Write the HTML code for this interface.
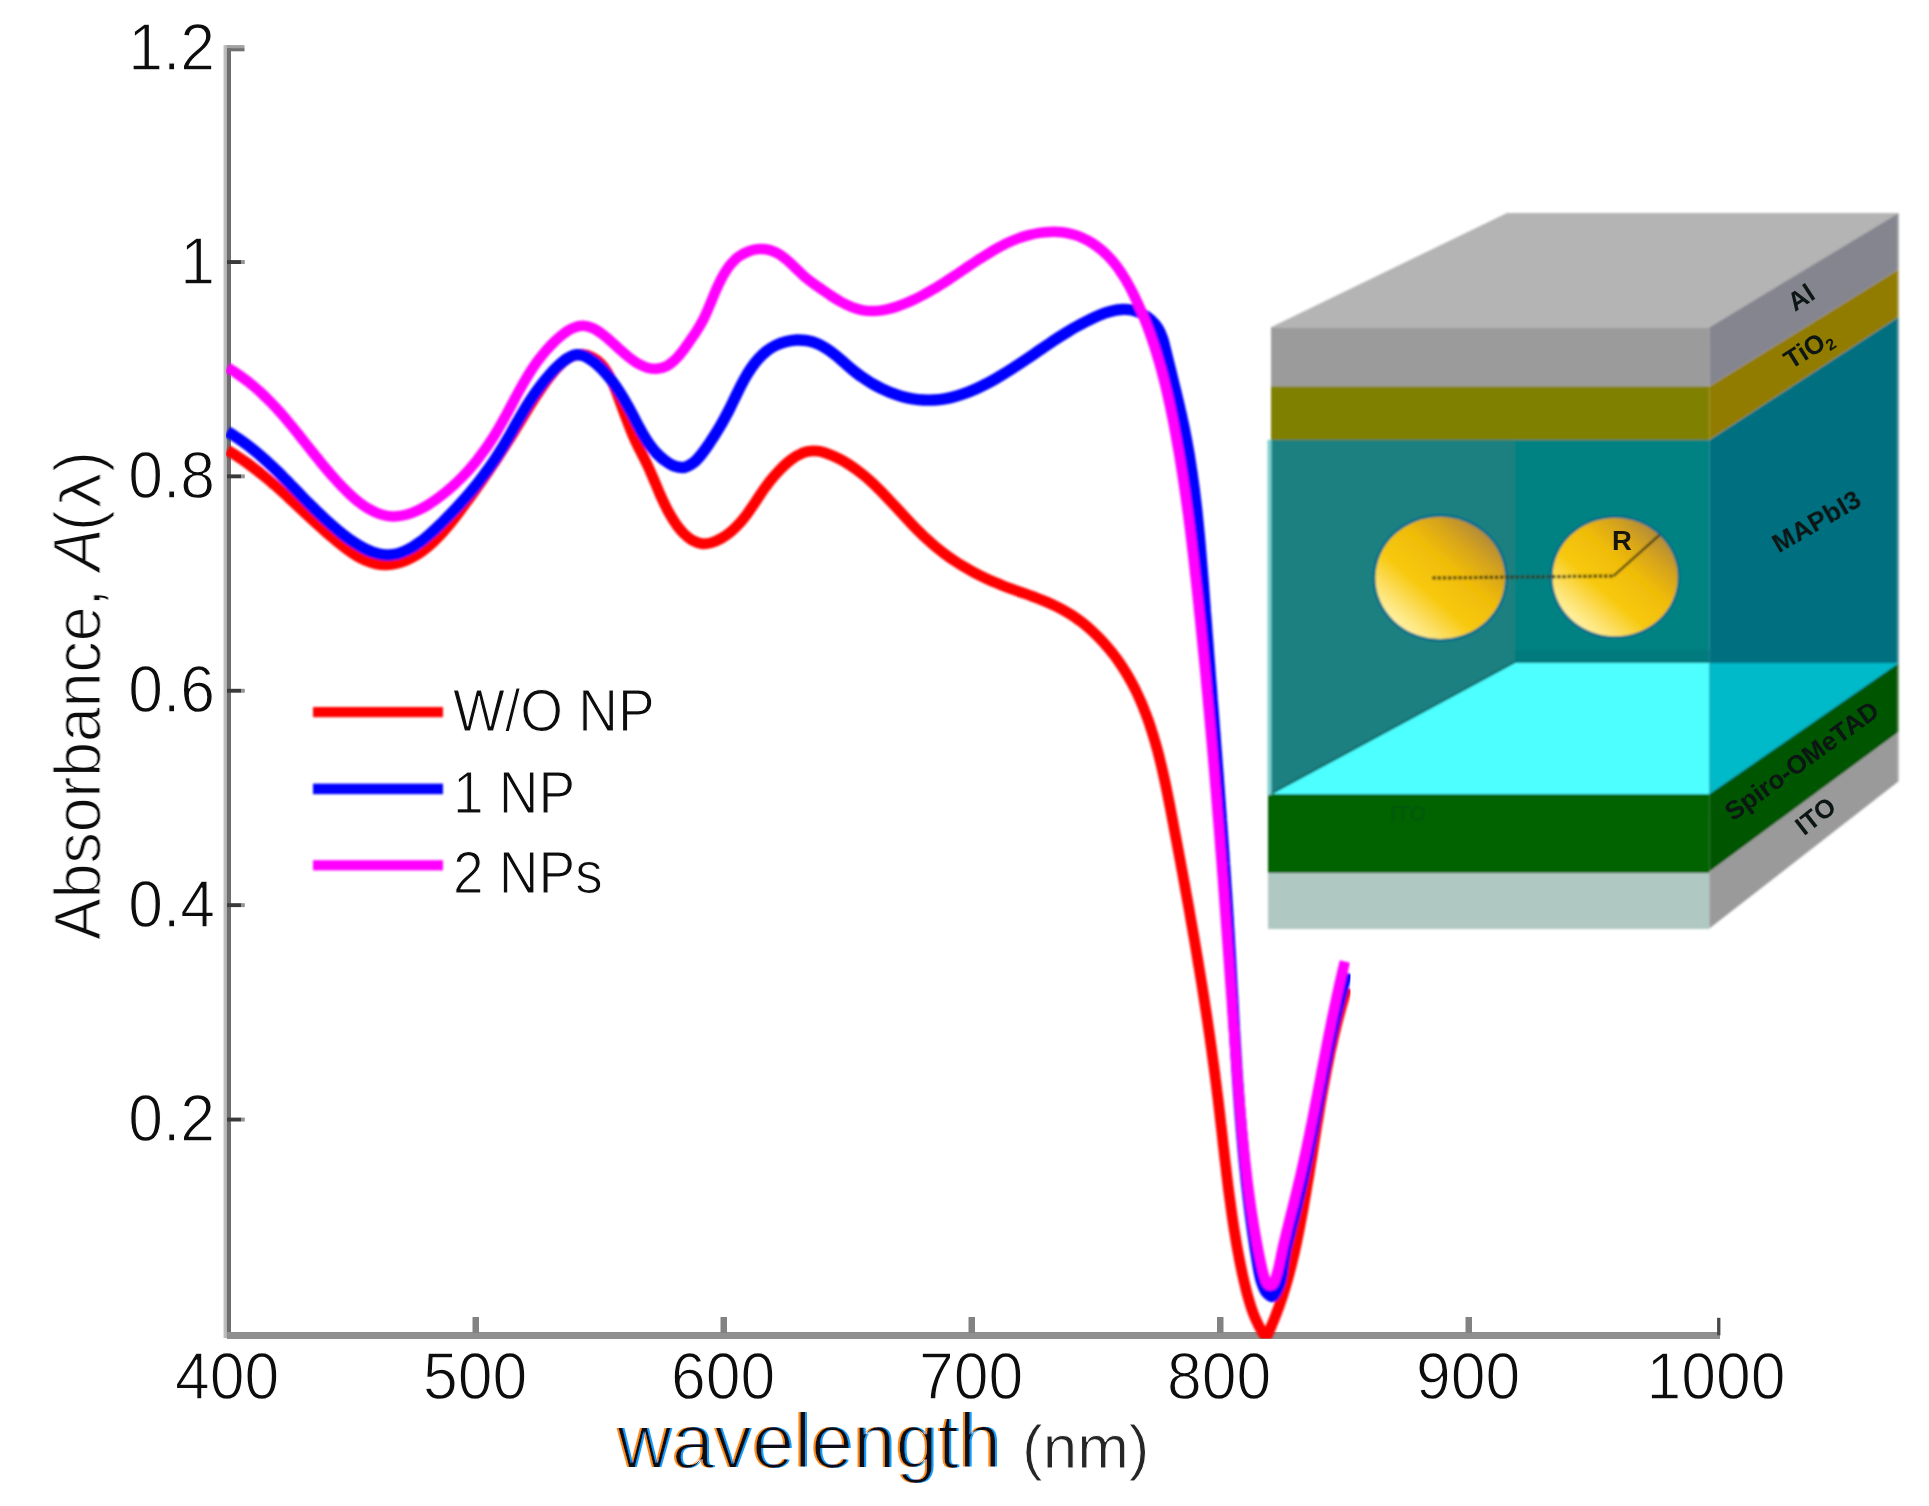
<!DOCTYPE html>
<html lang="en">
<head>
<meta charset="utf-8">
<title>Absorbance vs wavelength</title>
<style>
html,body{margin:0;padding:0;background:#fff;}
body{width:1929px;height:1506px;overflow:hidden;}
svg{display:block;}
text{font-family:"Liberation Sans",Arial,sans-serif;}
.tk{font-size:62.5px;fill:#0e0e0e;stroke:#fff;stroke-width:1.2px;}
.lg{font-size:55px;fill:#0e0e0e;stroke:#fff;stroke-width:1.1px;}
.in{font-size:26px;font-weight:bold;fill:#0c1412;}
</style>
</head>
<body>
<svg width="1929" height="1506" viewBox="0 0 1929 1506">
<defs>
<linearGradient id="yax" x1="0" x2="1" y1="0" y2="0">
<stop offset="0" stop-color="#c4c4c4"/><stop offset="0.42" stop-color="#b4b4b4"/><stop offset="0.46" stop-color="#6e6e6e"/><stop offset="1" stop-color="#6e6e6e"/>
</linearGradient>
<linearGradient id="gold" x1="0.15" y1="0.88" x2="0.85" y2="0.12">
<stop offset="0" stop-color="#fff3a8"/><stop offset="0.16" stop-color="#fde068"/><stop offset="0.36" stop-color="#f7c80c"/><stop offset="0.62" stop-color="#f0bc06"/><stop offset="0.82" stop-color="#d6a41c"/><stop offset="1" stop-color="#b08a3a"/>
</linearGradient>
<filter id="soft" x="-5%" y="-5%" width="110%" height="110%"><feGaussianBlur stdDeviation="1.1"/></filter>
<filter id="soft2" x="-5%" y="-5%" width="110%" height="110%"><feGaussianBlur stdDeviation="0.9"/></filter>
<filter id="soft3" x="-5%" y="-5%" width="110%" height="110%"><feGaussianBlur stdDeviation="0.55"/></filter>
<clipPath id="plotclip"><rect x="226" y="40" width="1124.5" height="1298.5"/></clipPath>
<filter id="ct" x="-2%" y="-10%" width="104%" height="120%">
<feMorphology in="SourceAlpha" operator="erode" radius="0.7" result="er"/>
<feFlood flood-color="#ff8c1a" result="of"/><feComposite in="of" in2="er" operator="in" result="oc"/><feOffset in="oc" dx="-2.1" dy="0" result="oo"/>
<feFlood flood-color="#169cff" result="bf"/><feComposite in="bf" in2="er" operator="in" result="bc"/><feOffset in="bc" dx="2.1" dy="0" result="bo"/>
<feFlood flood-color="#0a0a12" result="kf"/><feComposite in="kf" in2="er" operator="in" result="kc"/>
<feMerge result="m"><feMergeNode in="oo"/><feMergeNode in="bo"/><feMergeNode in="kc"/></feMerge>
<feGaussianBlur in="m" stdDeviation="0.6"/>
</filter>
</defs>
<rect width="1929" height="1506" fill="#fff"/>

<!-- axes -->
<rect x="223.5" y="45.1" width="7.5" height="1293" fill="url(#yax)"/>
<rect x="227" y="1332" width="1493" height="7" fill="#8f8f8f"/>
<g fill="#3a3a3a">
<rect x="227" y="260.1" width="14.5" height="3.9"/><rect x="241.5" y="260.1" width="3.3" height="3.9" fill="#949494"/>
<rect x="227" y="474.4" width="14.5" height="3.9"/><rect x="241.5" y="474.4" width="3.3" height="3.9" fill="#949494"/>
<rect x="227" y="688.8" width="14.5" height="3.9"/><rect x="241.5" y="688.8" width="3.3" height="3.9" fill="#949494"/>
<rect x="227" y="903.2" width="14.5" height="3.9"/><rect x="241.5" y="903.2" width="3.3" height="3.9" fill="#949494"/>
<rect x="227" y="1117.6" width="14.5" height="3.9"/><rect x="241.5" y="1117.6" width="3.3" height="3.9" fill="#949494"/>
<rect x="227" y="45.1" width="17.5" height="3" fill="#a2a2a2"/><rect x="227" y="48.1" width="17.5" height="3.2" fill="#707070"/>
</g>
<g fill="#828282">
<rect x="472.5" y="1317" width="6.5" height="16"/>
<rect x="720.5" y="1317" width="6.5" height="16"/>
<rect x="968.5" y="1317" width="6.5" height="16"/>
<rect x="1217" y="1317" width="6.5" height="16"/>
<rect x="1465.5" y="1317" width="6.5" height="16"/>
<rect x="1717.1" y="1317.8" width="3.3" height="17.5" fill="#484848"/>
</g>

<!-- curves -->
<g fill="none" stroke-width="10.8" stroke-linejoin="round" clip-path="url(#plotclip)" stroke-linecap="butt" filter="url(#soft2)">
<path stroke="#ff0000" d="M227.4 450.1C229.0 451.1 234.0 454.1 237.1 456.2C240.3 458.3 243.4 460.4 246.4 462.5C249.4 464.7 252.3 466.9 255.2 469.1C258.1 471.3 260.9 473.6 263.7 475.9C266.5 478.2 269.3 480.5 272.0 482.8C274.7 485.2 277.4 487.5 280.0 489.9C282.7 492.3 285.4 494.7 288.0 497.2C290.7 499.6 293.3 502.1 295.9 504.5C298.6 507.0 301.2 509.5 303.9 512.0C306.6 514.5 309.3 517.0 312.0 519.5C314.8 522.0 317.5 524.5 320.3 527.1C323.1 529.6 326.0 532.1 328.9 534.7C331.8 537.2 334.7 539.8 337.8 542.2C340.8 544.7 343.9 547.2 347.0 549.4C350.1 551.7 353.3 553.9 356.5 555.8C359.7 557.7 363.0 559.4 366.3 560.8C369.6 562.1 372.9 563.3 376.2 563.9C379.6 564.6 382.9 564.9 386.3 564.8C389.7 564.7 393.1 564.3 396.4 563.5C399.8 562.7 403.1 561.6 406.4 560.2C409.6 558.8 412.9 557.1 416.0 555.3C419.2 553.4 422.3 551.2 425.2 548.9C428.2 546.6 431.1 544.1 433.9 541.5C436.6 538.8 439.3 536.0 442.0 533.2C444.6 530.3 447.1 527.3 449.6 524.3C452.1 521.3 454.5 518.2 456.8 515.2C459.2 512.1 461.4 509.0 463.7 506.0C465.9 503.0 468.1 500.0 470.3 497.1C472.4 494.1 474.5 491.2 476.6 488.3C478.7 485.3 480.7 482.5 482.7 479.6C484.7 476.7 486.7 473.8 488.7 470.9C490.7 468.0 492.6 465.1 494.6 462.2C496.5 459.3 498.4 456.3 500.3 453.4C502.3 450.4 504.2 447.4 506.1 444.4C508.0 441.4 509.9 438.3 511.9 435.2C513.8 432.1 515.8 428.9 517.7 425.7C519.7 422.5 521.7 419.2 523.7 415.9C525.7 412.6 527.7 409.3 529.7 406.0C531.8 402.7 533.9 399.4 536.0 396.1C538.2 392.9 540.3 389.6 542.6 386.5C544.8 383.3 547.0 380.2 549.4 377.2C551.7 374.3 554.0 371.3 556.5 368.6C558.9 366.0 561.4 363.3 564.1 361.2C566.7 359.1 569.5 357.2 572.5 356.1C575.5 355.0 578.8 354.3 582.1 354.5C585.4 354.8 589.1 355.8 592.2 357.3C595.3 358.8 598.2 361.1 600.7 363.6C603.2 366.1 605.4 369.2 607.4 372.4C609.3 375.6 611.0 379.2 612.6 382.8C614.3 386.3 615.7 390.1 617.1 393.7C618.5 397.4 619.8 401.0 621.1 404.5C622.4 408.0 623.7 411.5 625.0 415.0C626.3 418.5 627.5 421.9 628.9 425.3C630.2 428.7 631.6 432.0 633.0 435.4C634.5 438.7 636.0 442.0 637.6 445.3C639.2 448.6 640.9 451.9 642.6 455.2C644.2 458.5 645.9 461.8 647.4 465.0C649.0 468.3 650.4 471.6 651.8 474.9C653.2 478.1 654.6 481.4 656.0 484.7C657.4 488.0 658.7 491.3 660.2 494.7C661.7 498.0 663.2 501.4 664.9 504.7C666.5 508.1 668.3 511.6 670.3 515.0C672.2 518.3 674.4 521.8 676.6 525.0C678.9 528.1 681.4 531.2 684.0 533.8C686.6 536.3 689.3 538.7 692.2 540.3C695.2 541.9 698.2 543.2 701.5 543.6C704.7 544.0 708.2 543.6 711.6 542.6C715.0 541.7 718.6 539.9 722.0 538.0C725.3 536.1 728.6 533.6 731.6 531.1C734.5 528.6 737.2 525.9 739.7 523.2C742.2 520.5 744.5 517.6 746.6 514.7C748.8 511.8 750.8 508.8 752.8 505.8C754.9 502.9 756.7 499.9 758.7 496.9C760.7 494.0 762.6 491.1 764.7 488.2C766.8 485.3 768.9 482.4 771.3 479.5C773.6 476.6 776.1 473.7 778.8 470.9C781.5 468.1 784.5 465.1 787.6 462.5C790.7 460.0 794.0 457.4 797.4 455.6C800.7 453.7 804.2 452.1 807.7 451.4C811.2 450.6 814.8 450.7 818.3 451.2C821.7 451.6 825.2 452.9 828.6 454.1C831.9 455.3 835.2 456.8 838.4 458.4C841.6 460.0 844.6 461.7 847.6 463.6C850.6 465.5 853.5 467.5 856.4 469.6C859.3 471.7 862.0 473.9 864.8 476.2C867.5 478.5 870.2 480.9 872.8 483.3C875.5 485.8 878.0 488.4 880.6 490.9C883.2 493.5 885.7 496.2 888.3 498.9C890.8 501.5 893.3 504.3 895.9 507.0C898.4 509.7 900.9 512.5 903.5 515.2C906.0 517.9 908.5 520.7 911.1 523.4C913.7 526.1 916.3 528.8 919.0 531.4C921.6 534.1 924.3 536.7 927.1 539.2C929.8 541.8 932.6 544.3 935.5 546.7C938.3 549.1 941.3 551.4 944.3 553.6C947.3 555.9 950.3 558.1 953.5 560.1C956.6 562.2 959.7 564.2 963.0 566.2C966.2 568.1 969.4 569.9 972.7 571.7C976.0 573.5 979.3 575.2 982.7 576.8C986.0 578.4 989.4 580.0 992.8 581.5C996.2 582.9 999.6 584.3 1003.0 585.7C1006.4 587.0 1009.8 588.3 1013.3 589.5C1016.7 590.8 1020.1 592.0 1023.5 593.2C1026.9 594.4 1030.3 595.6 1033.7 596.9C1037.0 598.2 1040.4 599.4 1043.7 600.8C1047.0 602.2 1050.3 603.6 1053.6 605.1C1056.8 606.6 1060.1 608.2 1063.2 609.9C1066.4 611.7 1069.5 613.6 1072.6 615.6C1075.6 617.6 1078.6 619.8 1081.6 622.0C1084.5 624.3 1087.4 626.7 1090.2 629.2C1093.0 631.7 1095.7 634.3 1098.3 637.0C1100.9 639.6 1103.5 642.4 1105.9 645.2C1108.4 648.0 1110.8 650.9 1113.0 653.8C1115.3 656.7 1117.4 659.7 1119.5 662.7C1121.6 665.7 1123.6 668.8 1125.5 671.9C1127.4 675.0 1129.2 678.1 1131.0 681.3C1132.7 684.5 1134.4 687.7 1136.0 691.0C1137.6 694.3 1139.1 697.6 1140.6 700.9C1142.0 704.2 1143.4 707.6 1144.7 711.0C1146.1 714.4 1147.3 717.8 1148.6 721.2C1149.8 724.7 1150.9 728.2 1152.0 731.7C1153.2 735.2 1154.2 738.7 1155.2 742.2C1156.3 745.8 1157.2 749.3 1158.2 752.9C1159.1 756.5 1160.0 760.1 1160.9 763.7C1161.8 767.3 1162.6 770.9 1163.4 774.5C1164.2 778.2 1165.0 781.8 1165.8 785.5C1166.5 789.1 1167.3 792.8 1168.0 796.4C1168.7 800.1 1169.5 803.7 1170.2 807.4C1170.9 811.0 1171.6 814.7 1172.3 818.4C1173.0 822.0 1173.6 825.7 1174.3 829.3C1175.0 833.0 1175.7 836.6 1176.4 840.2C1177.1 843.9 1177.8 847.5 1178.4 851.1C1179.1 854.8 1179.8 858.4 1180.5 862.0C1181.1 865.7 1181.8 869.3 1182.5 872.9C1183.1 876.5 1183.8 880.1 1184.5 883.8C1185.1 887.4 1185.8 891.0 1186.4 894.6C1187.1 898.2 1187.7 901.8 1188.4 905.4C1189.0 909.1 1189.7 912.7 1190.3 916.3C1190.9 919.9 1191.6 923.5 1192.2 927.1C1192.8 930.7 1193.5 934.3 1194.1 937.9C1194.7 941.5 1195.3 945.1 1195.9 948.7C1196.5 952.3 1197.1 955.9 1197.7 959.5C1198.3 963.2 1198.9 966.8 1199.5 970.4C1200.1 974.0 1200.7 977.6 1201.3 981.2C1201.9 984.8 1202.5 988.4 1203.0 992.0C1203.6 995.6 1204.2 999.2 1204.7 1002.9C1205.3 1006.5 1205.8 1010.1 1206.4 1013.7C1206.9 1017.3 1207.5 1020.9 1208.0 1024.6C1208.5 1028.2 1209.1 1031.8 1209.6 1035.4C1210.1 1039.1 1210.6 1042.7 1211.1 1046.3C1211.6 1050.0 1212.1 1053.6 1212.6 1057.2C1213.1 1060.9 1213.6 1064.5 1214.1 1068.2C1214.6 1071.8 1215.1 1075.5 1215.5 1079.1C1216.0 1082.8 1216.5 1086.5 1216.9 1090.1C1217.4 1093.8 1217.8 1097.5 1218.3 1101.1C1218.7 1104.8 1219.1 1108.5 1219.6 1112.2C1220.0 1115.8 1220.4 1119.5 1220.8 1123.2C1221.3 1126.9 1221.7 1130.6 1222.1 1134.3C1222.5 1138.0 1222.9 1141.7 1223.3 1145.4C1223.7 1149.1 1224.2 1152.8 1224.6 1156.5C1225.0 1160.1 1225.4 1163.8 1225.9 1167.5C1226.3 1171.2 1226.7 1174.9 1227.2 1178.6C1227.6 1182.3 1228.1 1186.0 1228.5 1189.6C1229.0 1193.3 1229.5 1197.0 1230.0 1200.6C1230.5 1204.3 1231.0 1208.0 1231.5 1211.6C1232.0 1215.3 1232.5 1218.9 1233.1 1222.6C1233.6 1226.2 1234.2 1229.8 1234.8 1233.4C1235.4 1237.1 1236.0 1240.7 1236.6 1244.3C1237.2 1247.9 1237.9 1251.5 1238.6 1255.0C1239.2 1258.6 1239.9 1262.2 1240.7 1265.7C1241.4 1269.3 1242.2 1272.8 1242.9 1276.3C1243.7 1279.9 1244.5 1283.4 1245.4 1286.9C1246.2 1290.4 1247.1 1293.8 1248.1 1297.3C1249.1 1300.8 1250.1 1304.2 1251.3 1307.7C1252.4 1311.1 1253.7 1314.5 1255.1 1317.9C1256.6 1321.3 1258.2 1324.7 1260.0 1328.0C1261.8 1331.4 1265.0 1336.3 1266.0 1338.0L1266.0 1338.0C1266.8 1336.3 1269.2 1331.1 1270.7 1327.7C1272.2 1324.2 1273.7 1320.7 1275.0 1317.2C1276.4 1313.7 1277.7 1310.2 1279.0 1306.7C1280.2 1303.2 1281.4 1299.7 1282.6 1296.1C1283.7 1292.6 1284.8 1289.0 1285.9 1285.4C1286.9 1281.9 1288.0 1278.3 1288.9 1274.7C1289.9 1271.1 1290.8 1267.5 1291.7 1263.9C1292.6 1260.2 1293.5 1256.6 1294.3 1253.0C1295.1 1249.4 1295.9 1245.7 1296.7 1242.1C1297.4 1238.4 1298.2 1234.7 1298.9 1231.1C1299.6 1227.4 1300.4 1223.7 1301.0 1220.1C1301.7 1216.4 1302.4 1212.7 1303.1 1209.0C1303.7 1205.3 1304.4 1201.6 1305.0 1197.9C1305.7 1194.2 1306.3 1190.5 1306.9 1186.8C1307.5 1183.1 1308.2 1179.4 1308.8 1175.6C1309.4 1171.9 1310.0 1168.2 1310.6 1164.5C1311.2 1160.8 1311.8 1157.0 1312.4 1153.3C1313.0 1149.6 1313.5 1145.9 1314.1 1142.1C1314.7 1138.4 1315.3 1134.7 1315.9 1130.9C1316.5 1127.2 1317.1 1123.5 1317.8 1119.8C1318.4 1116.0 1319.0 1112.3 1319.6 1108.6C1320.2 1104.9 1320.9 1101.2 1321.5 1097.5C1322.2 1093.7 1322.8 1090.0 1323.5 1086.3C1324.2 1082.6 1324.9 1078.9 1325.6 1075.2C1326.3 1071.5 1327.0 1067.8 1327.8 1064.2C1328.5 1060.5 1329.3 1056.8 1330.0 1053.1C1330.8 1049.5 1331.6 1045.8 1332.5 1042.1C1333.3 1038.5 1334.1 1034.8 1335.0 1031.2C1335.9 1027.5 1336.8 1023.9 1337.7 1020.3C1338.7 1016.7 1339.6 1013.1 1340.6 1009.5C1341.6 1005.9 1342.6 1002.3 1343.7 998.7C1344.8 995.1 1346.5 989.8 1347.0 988.0"/>
<path stroke="#0000ff" stroke-width="11.4" d="M227.4 431.5C229.1 432.6 234.2 435.7 237.4 437.9C240.6 440.1 243.7 442.3 246.7 444.5C249.7 446.8 252.5 449.1 255.4 451.4C258.2 453.7 260.9 456.0 263.6 458.4C266.3 460.7 268.8 463.1 271.4 465.6C274.0 468.0 276.5 470.4 279.0 472.9C281.5 475.4 283.9 477.9 286.4 480.4C288.9 482.9 291.3 485.4 293.8 487.9C296.2 490.5 298.7 493.0 301.2 495.6C303.7 498.2 306.2 500.8 308.8 503.4C311.4 505.9 314.0 508.5 316.7 511.2C319.4 513.8 322.1 516.4 324.9 519.0C327.8 521.6 330.7 524.2 333.7 526.8C336.7 529.4 339.8 532.0 342.9 534.5C346.1 537.0 349.3 539.4 352.6 541.6C355.9 543.8 359.2 545.8 362.5 547.6C365.8 549.3 369.2 550.9 372.5 552.1C375.8 553.2 379.2 554.2 382.5 554.6C385.8 555.0 389.1 555.1 392.3 554.7C395.5 554.3 398.7 553.4 401.9 552.3C405.0 551.2 408.2 549.7 411.2 547.9C414.3 546.2 417.3 544.1 420.3 541.9C423.3 539.7 426.2 537.2 429.1 534.7C432.0 532.2 434.9 529.5 437.7 526.8C440.5 524.1 443.3 521.4 446.0 518.6C448.7 515.9 451.4 513.1 454.0 510.4C456.6 507.6 459.2 504.8 461.7 502.0C464.2 499.2 466.7 496.4 469.1 493.6C471.5 490.8 473.9 487.9 476.2 485.1C478.5 482.2 480.7 479.3 482.9 476.4C485.1 473.5 487.3 470.6 489.4 467.6C491.5 464.7 493.5 461.7 495.5 458.7C497.5 455.7 499.4 452.7 501.3 449.6C503.2 446.6 505.0 443.5 506.8 440.4C508.6 437.3 510.4 434.2 512.2 431.1C513.9 427.9 515.7 424.8 517.5 421.7C519.3 418.5 521.1 415.4 523.0 412.3C524.8 409.1 526.7 406.0 528.7 402.9C530.7 399.8 532.7 396.7 534.9 393.6C537.0 390.5 539.2 387.5 541.6 384.4C544.0 381.4 546.4 378.4 549.0 375.5C551.6 372.5 554.4 369.4 557.3 366.7C560.2 364.0 563.2 361.1 566.3 359.1C569.4 357.1 572.6 355.4 575.7 354.9C578.8 354.4 582.0 355.1 585.0 356.3C588.0 357.4 591.0 359.8 593.8 361.9C596.6 364.0 599.2 366.5 601.8 369.0C604.3 371.6 606.7 374.4 609.1 377.2C611.4 380.1 613.6 383.1 615.7 386.2C617.9 389.3 619.9 392.6 621.9 395.8C623.9 399.1 625.8 402.4 627.6 405.7C629.5 409.0 631.3 412.4 633.1 415.7C634.8 419.1 636.5 422.4 638.2 425.6C640.0 428.9 641.6 432.1 643.5 435.2C645.3 438.3 647.1 441.3 649.2 444.2C651.3 447.1 653.5 449.9 656.0 452.6C658.6 455.2 661.3 457.9 664.4 460.1C667.5 462.4 671.2 464.9 674.6 466.1C677.9 467.3 681.5 467.9 684.7 467.3C687.9 466.7 690.9 464.8 693.7 462.6C696.5 460.4 699.1 457.2 701.6 454.2C704.1 451.2 706.4 447.7 708.6 444.5C710.7 441.3 712.7 438.2 714.7 435.1C716.6 432.1 718.4 429.1 720.2 426.1C722.0 423.1 723.6 420.1 725.3 417.0C727.0 413.9 728.6 410.8 730.2 407.6C731.8 404.3 733.4 400.9 735.1 397.5C736.7 394.1 738.4 390.6 740.1 387.2C741.9 383.8 743.7 380.3 745.6 377.0C747.5 373.7 749.5 370.5 751.7 367.4C753.8 364.3 756.1 361.4 758.6 358.7C761.0 356.0 763.6 353.4 766.4 351.2C769.2 349.0 772.3 347.1 775.5 345.5C778.7 343.9 782.2 342.6 785.6 341.7C789.1 340.8 792.8 340.2 796.3 340.0C799.9 339.9 803.5 340.0 807.0 340.6C810.4 341.2 813.8 342.2 817.0 343.5C820.3 344.8 823.3 346.6 826.3 348.5C829.3 350.4 832.2 352.6 835.1 354.9C838.0 357.2 840.8 359.8 843.7 362.2C846.6 364.7 849.4 367.3 852.4 369.7C855.4 372.1 858.4 374.5 861.5 376.7C864.7 378.9 867.9 381.0 871.1 383.0C874.4 384.9 877.8 386.7 881.1 388.4C884.5 390.0 888.0 391.5 891.4 392.9C894.9 394.2 898.4 395.4 901.9 396.4C905.5 397.4 909.0 398.2 912.6 398.8C916.2 399.4 919.7 399.8 923.3 400.0C926.9 400.2 930.4 400.2 934.0 400.0C937.5 399.8 941.1 399.4 944.6 398.8C948.1 398.2 951.6 397.4 955.1 396.4C958.5 395.5 962.0 394.4 965.4 393.1C968.9 391.9 972.3 390.5 975.7 389.0C979.0 387.5 982.4 385.8 985.7 384.1C989.1 382.4 992.4 380.6 995.7 378.7C998.9 376.9 1002.2 374.9 1005.4 372.9C1008.6 371.0 1011.8 368.9 1015.0 366.8C1018.1 364.8 1021.3 362.7 1024.3 360.6C1027.4 358.5 1030.5 356.4 1033.5 354.4C1036.5 352.3 1039.5 350.3 1042.5 348.2C1045.4 346.2 1048.4 344.2 1051.4 342.2C1054.3 340.2 1057.3 338.3 1060.3 336.4C1063.4 334.4 1066.4 332.5 1069.5 330.7C1072.6 328.8 1075.7 327.0 1079.0 325.3C1082.2 323.5 1085.5 321.7 1088.9 320.1C1092.3 318.4 1095.8 316.7 1099.3 315.3C1102.8 313.8 1106.5 312.5 1110.1 311.5C1113.7 310.5 1117.3 309.7 1120.9 309.5C1124.5 309.2 1128.2 309.3 1131.7 310.0C1135.2 310.7 1138.7 312.0 1142.0 313.7C1145.2 315.3 1148.4 317.6 1151.1 320.1C1153.8 322.6 1156.3 325.6 1158.2 328.7C1160.1 331.7 1161.4 335.2 1162.6 338.6C1163.8 342.0 1164.5 345.7 1165.4 349.2C1166.3 352.8 1167.2 356.4 1168.0 360.0C1168.9 363.6 1169.8 367.2 1170.7 370.7C1171.6 374.3 1172.5 377.9 1173.3 381.5C1174.2 385.1 1175.1 388.6 1176.0 392.2C1176.8 395.8 1177.7 399.4 1178.6 403.0C1179.4 406.5 1180.2 410.1 1181.0 413.7C1181.9 417.3 1182.6 420.9 1183.4 424.5C1184.2 428.1 1184.9 431.7 1185.6 435.3C1186.3 438.9 1187.0 442.5 1187.6 446.2C1188.3 449.8 1188.9 453.4 1189.5 457.0C1190.1 460.7 1190.7 464.3 1191.2 467.9C1191.8 471.6 1192.3 475.2 1192.8 478.9C1193.3 482.5 1193.8 486.1 1194.3 489.8C1194.7 493.4 1195.2 497.1 1195.6 500.8C1196.1 504.4 1196.5 508.1 1196.9 511.7C1197.3 515.4 1197.6 519.1 1198.0 522.7C1198.4 526.4 1198.7 530.1 1199.1 533.7C1199.4 537.4 1199.8 541.1 1200.1 544.8C1200.4 548.4 1200.7 552.1 1201.0 555.8C1201.3 559.5 1201.6 563.1 1201.9 566.8C1202.2 570.5 1202.5 574.2 1202.8 577.8C1203.1 581.5 1203.4 585.2 1203.7 588.9C1203.9 592.5 1204.2 596.2 1204.5 599.9C1204.8 603.6 1205.1 607.2 1205.3 610.9C1205.6 614.6 1205.9 618.2 1206.2 621.9C1206.5 625.6 1206.7 629.3 1207.0 632.9C1207.3 636.6 1207.6 640.3 1207.9 643.9C1208.1 647.6 1208.4 651.3 1208.7 654.9C1209.0 658.6 1209.3 662.3 1209.6 665.9C1209.9 669.6 1210.1 673.2 1210.4 676.9C1210.7 680.6 1211.0 684.2 1211.3 687.9C1211.6 691.6 1211.9 695.2 1212.1 698.9C1212.4 702.5 1212.7 706.2 1213.0 709.9C1213.3 713.5 1213.6 717.2 1213.8 720.8C1214.1 724.5 1214.4 728.2 1214.7 731.8C1215.0 735.5 1215.3 739.1 1215.5 742.8C1215.8 746.4 1216.1 750.1 1216.4 753.8C1216.7 757.4 1216.9 761.1 1217.2 764.7C1217.5 768.4 1217.8 772.1 1218.1 775.7C1218.3 779.4 1218.6 783.0 1218.9 786.7C1219.2 790.4 1219.4 794.0 1219.7 797.7C1220.0 801.3 1220.2 805.0 1220.5 808.7C1220.8 812.3 1221.1 816.0 1221.3 819.6C1221.6 823.3 1221.8 827.0 1222.1 830.6C1222.4 834.3 1222.6 838.0 1222.9 841.6C1223.2 845.3 1223.4 849.0 1223.7 852.6C1223.9 856.3 1224.2 860.0 1224.4 863.6C1224.7 867.3 1224.9 871.0 1225.2 874.6C1225.4 878.3 1225.7 882.0 1225.9 885.6C1226.2 889.3 1226.4 893.0 1226.7 896.7C1226.9 900.3 1227.1 904.0 1227.4 907.7C1227.6 911.4 1227.8 915.0 1228.1 918.7C1228.3 922.4 1228.5 926.1 1228.7 929.8C1229.0 933.4 1229.2 937.1 1229.4 940.8C1229.6 944.5 1229.8 948.2 1230.1 951.9C1230.3 955.5 1230.5 959.2 1230.7 962.9C1230.9 966.6 1231.1 970.3 1231.3 974.0C1231.5 977.7 1231.7 981.4 1231.9 985.1C1232.1 988.8 1232.3 992.4 1232.6 996.1C1232.8 999.8 1233.0 1003.5 1233.2 1007.2C1233.4 1010.9 1233.6 1014.6 1233.8 1018.3C1234.0 1022.0 1234.2 1025.7 1234.4 1029.4C1234.7 1033.1 1234.9 1036.8 1235.1 1040.4C1235.3 1044.1 1235.5 1047.8 1235.8 1051.5C1236.0 1055.2 1236.2 1058.9 1236.5 1062.6C1236.7 1066.3 1236.9 1070.0 1237.2 1073.7C1237.4 1077.3 1237.7 1081.0 1237.9 1084.7C1238.2 1088.4 1238.5 1092.1 1238.7 1095.8C1239.0 1099.4 1239.3 1103.1 1239.5 1106.8C1239.8 1110.5 1240.1 1114.2 1240.4 1117.8C1240.7 1121.5 1241.0 1125.2 1241.3 1128.8C1241.6 1132.5 1241.9 1136.2 1242.3 1139.8C1242.6 1143.5 1242.9 1147.2 1243.3 1150.8C1243.6 1154.5 1244.0 1158.2 1244.3 1161.8C1244.7 1165.5 1245.1 1169.1 1245.5 1172.8C1245.8 1176.4 1246.2 1180.1 1246.6 1183.7C1247.1 1187.4 1247.5 1191.0 1247.9 1194.6C1248.3 1198.3 1248.8 1201.9 1249.2 1205.5C1249.7 1209.2 1250.1 1212.8 1250.6 1216.4C1251.1 1220.0 1251.6 1223.6 1252.1 1227.3C1252.6 1230.9 1253.1 1234.5 1253.7 1238.1C1254.2 1241.7 1254.8 1245.3 1255.3 1248.9C1255.9 1252.5 1256.5 1256.1 1257.1 1259.7C1257.7 1263.3 1258.2 1266.8 1258.9 1270.4C1259.6 1274.0 1260.2 1277.6 1261.4 1281.2C1262.6 1284.8 1264.1 1289.5 1266.0 1292.0C1268.0 1294.5 1271.0 1297.2 1273.2 1296.1C1275.4 1295.0 1277.6 1289.1 1279.0 1285.5C1280.5 1281.8 1281.1 1278.0 1281.8 1274.4C1282.5 1270.8 1282.7 1267.3 1283.3 1263.8C1283.8 1260.3 1284.3 1256.9 1284.9 1253.5C1285.6 1250.1 1286.4 1246.7 1287.2 1243.3C1288.0 1239.9 1288.9 1236.5 1289.8 1233.0C1290.7 1229.5 1291.6 1226.0 1292.5 1222.4C1293.4 1218.9 1294.4 1215.2 1295.3 1211.6C1296.2 1207.9 1297.0 1204.2 1297.9 1200.5C1298.8 1196.8 1299.7 1193.0 1300.5 1189.3C1301.4 1185.6 1302.2 1181.9 1303.0 1178.2C1303.8 1174.5 1304.6 1170.8 1305.4 1167.1C1306.2 1163.4 1306.9 1159.7 1307.7 1156.1C1308.4 1152.4 1309.1 1148.8 1309.8 1145.1C1310.6 1141.5 1311.3 1137.8 1312.0 1134.2C1312.7 1130.6 1313.4 1127.0 1314.1 1123.3C1314.7 1119.7 1315.4 1116.1 1316.1 1112.5C1316.8 1108.9 1317.5 1105.3 1318.1 1101.7C1318.8 1098.1 1319.5 1094.6 1320.2 1091.0C1320.8 1087.4 1321.5 1083.8 1322.2 1080.3C1322.9 1076.7 1323.6 1073.1 1324.3 1069.5C1325.0 1066.0 1325.7 1062.4 1326.4 1058.8C1327.1 1055.3 1327.8 1051.7 1328.6 1048.1C1329.3 1044.6 1330.1 1041.0 1330.9 1037.5C1331.6 1033.9 1332.4 1030.3 1333.2 1026.8C1334.0 1023.2 1334.8 1019.6 1335.7 1016.0C1336.5 1012.5 1337.4 1008.9 1338.3 1005.3C1339.2 1001.7 1340.1 998.2 1341.0 994.6C1342.0 991.0 1342.9 987.4 1343.9 983.8C1344.9 980.2 1346.5 974.8 1347.0 973.0"/>
<path stroke="#ff00ff" stroke-width="10.5" d="M227.4 367.4C229.1 368.5 234.1 371.6 237.3 373.8C240.5 375.9 243.5 378.2 246.5 380.4C249.4 382.7 252.3 385.0 255.0 387.4C257.8 389.8 260.5 392.2 263.0 394.6C265.6 397.1 268.1 399.6 270.6 402.1C273.1 404.6 275.5 407.2 277.8 409.8C280.2 412.4 282.5 415.0 284.8 417.7C287.0 420.4 289.3 423.1 291.5 425.8C293.8 428.5 296.0 431.3 298.2 434.1C300.4 436.8 302.6 439.7 304.9 442.5C307.1 445.3 309.4 448.2 311.7 451.1C314.0 453.9 316.3 456.8 318.7 459.7C321.0 462.7 323.4 465.6 325.9 468.5C328.4 471.5 330.9 474.5 333.6 477.4C336.2 480.4 338.9 483.4 341.6 486.2C344.4 489.1 347.2 491.9 350.1 494.6C352.9 497.2 355.9 499.8 358.8 502.1C361.8 504.4 364.9 506.5 368.0 508.4C371.1 510.2 374.2 511.9 377.4 513.1C380.6 514.4 383.8 515.3 387.1 515.9C390.3 516.4 393.6 516.5 397.0 516.3C400.3 516.1 403.7 515.4 407.0 514.5C410.3 513.6 413.7 512.3 417.0 510.8C420.3 509.3 423.6 507.5 426.9 505.6C430.1 503.7 433.3 501.5 436.4 499.3C439.5 497.1 442.6 494.7 445.5 492.3C448.5 489.9 451.3 487.4 454.1 484.9C456.8 482.3 459.5 479.7 462.1 477.1C464.7 474.4 467.2 471.7 469.7 468.9C472.1 466.1 474.5 463.3 476.8 460.4C479.1 457.5 481.3 454.6 483.4 451.6C485.6 448.7 487.7 445.7 489.7 442.6C491.7 439.6 493.7 436.5 495.6 433.4C497.5 430.3 499.3 427.2 501.1 424.0C502.9 420.9 504.6 417.7 506.4 414.5C508.1 411.4 509.8 408.2 511.5 405.0C513.2 401.8 514.9 398.6 516.6 395.4C518.3 392.2 520.1 389.0 521.9 385.9C523.7 382.7 525.5 379.6 527.4 376.5C529.3 373.4 531.3 370.3 533.3 367.2C535.4 364.2 537.6 361.2 539.8 358.2C542.1 355.3 544.5 352.3 547.0 349.5C549.6 346.6 552.2 343.8 555.0 341.1C557.9 338.4 560.9 335.6 563.9 333.4C567.0 331.2 570.2 329.0 573.4 327.8C576.6 326.5 579.9 325.6 583.1 325.7C586.3 325.8 589.6 326.9 592.7 328.2C595.8 329.5 598.8 331.6 601.8 333.7C604.8 335.8 607.6 338.4 610.5 340.9C613.4 343.4 616.2 346.2 619.1 348.8C622.0 351.4 624.8 354.1 627.8 356.4C630.8 358.8 633.8 361.1 636.9 363.0C640.0 364.8 643.3 366.4 646.6 367.4C650.0 368.4 653.4 369.0 656.7 368.8C660.0 368.6 663.3 367.8 666.4 366.3C669.5 364.8 672.4 362.3 675.2 359.7C677.9 357.1 680.6 353.8 683.0 350.6C685.5 347.5 687.8 343.9 690.0 340.8C692.2 337.6 694.2 334.6 696.2 331.7C698.1 328.7 699.8 325.9 701.5 322.9C703.2 319.9 704.7 316.8 706.1 313.6C707.6 310.4 708.9 307.0 710.4 303.7C711.8 300.3 713.1 296.9 714.6 293.4C716.1 290.0 717.5 286.5 719.2 283.1C720.9 279.7 722.6 276.3 724.6 273.0C726.6 269.8 728.7 266.5 731.2 263.7C733.6 260.9 736.3 258.2 739.3 256.2C742.3 254.1 745.6 252.4 748.9 251.2C752.3 250.0 755.9 249.3 759.4 249.1C762.9 248.9 766.5 249.2 769.9 250.1C773.2 251.0 776.5 252.5 779.7 254.4C782.8 256.3 785.7 258.9 788.6 261.4C791.5 263.9 794.2 266.8 796.9 269.4C799.7 272.0 802.4 274.7 805.1 277.1C807.8 279.4 810.5 281.3 813.4 283.4C816.2 285.5 819.1 287.5 822.1 289.6C825.1 291.7 828.2 293.9 831.4 296.0C834.6 298.1 837.9 300.2 841.2 302.0C844.6 303.8 848.0 305.6 851.4 306.9C854.9 308.3 858.4 309.4 861.9 310.1C865.4 310.8 869.0 311.1 872.5 311.1C876.0 311.1 879.6 310.7 883.1 310.1C886.7 309.5 890.2 308.6 893.7 307.6C897.2 306.6 900.7 305.3 904.1 303.9C907.5 302.6 910.9 301.1 914.2 299.5C917.5 298.0 920.8 296.3 924.0 294.5C927.3 292.8 930.5 291.0 933.6 289.1C936.8 287.2 939.9 285.2 943.1 283.3C946.2 281.3 949.3 279.2 952.4 277.2C955.5 275.2 958.6 273.1 961.6 271.0C964.7 268.9 967.8 266.9 970.8 264.8C973.9 262.8 976.9 260.7 980.0 258.7C983.1 256.7 986.2 254.8 989.3 252.9C992.4 251.0 995.5 249.2 998.7 247.4C1001.9 245.7 1005.1 244.0 1008.3 242.5C1011.6 241.0 1014.9 239.6 1018.3 238.4C1021.7 237.1 1025.2 236.0 1028.7 235.1C1032.3 234.2 1035.9 233.4 1039.6 232.9C1043.2 232.4 1047.0 232.0 1050.7 231.9C1054.4 231.8 1058.1 231.9 1061.8 232.3C1065.4 232.7 1069.0 233.4 1072.5 234.3C1075.9 235.3 1079.3 236.5 1082.6 238.0C1085.8 239.4 1089.0 241.1 1092.0 243.0C1095.1 245.0 1098.0 247.1 1100.8 249.4C1103.6 251.7 1106.2 254.2 1108.8 256.9C1111.3 259.5 1113.7 262.3 1115.9 265.2C1118.2 268.2 1120.3 271.2 1122.3 274.4C1124.4 277.5 1126.3 280.7 1128.1 284.0C1130.0 287.3 1131.7 290.7 1133.4 294.1C1135.1 297.5 1136.6 300.9 1138.2 304.3C1139.7 307.7 1141.2 311.2 1142.7 314.6C1144.1 318.0 1145.5 321.5 1146.8 324.9C1148.1 328.4 1149.4 331.9 1150.6 335.3C1151.8 338.8 1153.0 342.3 1154.2 345.8C1155.3 349.2 1156.4 352.7 1157.4 356.2C1158.5 359.7 1159.5 363.2 1160.5 366.7C1161.5 370.3 1162.4 373.8 1163.3 377.3C1164.2 380.8 1165.1 384.3 1165.9 387.9C1166.8 391.4 1167.6 394.9 1168.4 398.5C1169.2 402.0 1170.0 405.6 1170.7 409.1C1171.4 412.7 1172.2 416.3 1172.9 419.8C1173.6 423.4 1174.3 427.0 1174.9 430.5C1175.6 434.1 1176.3 437.7 1176.9 441.3C1177.5 444.9 1178.2 448.4 1178.8 452.0C1179.4 455.6 1180.0 459.2 1180.6 462.8C1181.1 466.4 1181.7 470.0 1182.3 473.6C1182.8 477.2 1183.4 480.9 1183.9 484.5C1184.5 488.1 1185.0 491.7 1185.5 495.3C1186.0 499.0 1186.5 502.6 1187.0 506.2C1187.5 509.8 1188.0 513.5 1188.5 517.1C1188.9 520.7 1189.4 524.4 1189.9 528.0C1190.3 531.6 1190.8 535.3 1191.2 538.9C1191.7 542.6 1192.1 546.2 1192.5 549.9C1193.0 553.5 1193.4 557.1 1193.8 560.8C1194.2 564.4 1194.6 568.1 1195.0 571.7C1195.4 575.4 1195.8 579.0 1196.2 582.7C1196.6 586.4 1197.0 590.0 1197.4 593.7C1197.8 597.3 1198.2 601.0 1198.6 604.6C1198.9 608.3 1199.3 611.9 1199.7 615.6C1200.1 619.3 1200.5 622.9 1200.8 626.6C1201.2 630.2 1201.6 633.9 1201.9 637.6C1202.3 641.2 1202.7 644.9 1203.0 648.5C1203.4 652.2 1203.7 655.8 1204.1 659.5C1204.5 663.2 1204.8 666.8 1205.2 670.5C1205.5 674.2 1205.9 677.8 1206.2 681.5C1206.5 685.1 1206.9 688.8 1207.2 692.5C1207.6 696.1 1207.9 699.8 1208.2 703.4C1208.6 707.1 1208.9 710.8 1209.2 714.4C1209.6 718.1 1209.9 721.8 1210.2 725.4C1210.6 729.1 1210.9 732.7 1211.2 736.4C1211.5 740.1 1211.9 743.7 1212.2 747.4C1212.5 751.1 1212.8 754.7 1213.1 758.4C1213.4 762.0 1213.8 765.7 1214.1 769.4C1214.4 773.0 1214.7 776.7 1215.0 780.4C1215.3 784.0 1215.6 787.7 1215.9 791.4C1216.2 795.0 1216.5 798.7 1216.8 802.3C1217.1 806.0 1217.4 809.7 1217.7 813.3C1218.0 817.0 1218.3 820.7 1218.6 824.3C1218.9 828.0 1219.2 831.6 1219.5 835.3C1219.8 839.0 1220.0 842.6 1220.3 846.3C1220.6 850.0 1220.9 853.6 1221.2 857.3C1221.5 860.9 1221.8 864.6 1222.0 868.3C1222.3 871.9 1222.6 875.6 1222.9 879.3C1223.1 882.9 1223.4 886.6 1223.7 890.2C1224.0 893.9 1224.2 897.6 1224.5 901.2C1224.8 904.9 1225.1 908.5 1225.3 912.2C1225.6 915.9 1225.9 919.5 1226.1 923.2C1226.4 926.8 1226.7 930.5 1226.9 934.2C1227.2 937.8 1227.5 941.5 1227.7 945.1C1228.0 948.8 1228.3 952.4 1228.5 956.1C1228.8 959.8 1229.0 963.4 1229.3 967.1C1229.6 970.7 1229.8 974.4 1230.1 978.0C1230.3 981.7 1230.6 985.3 1230.9 989.0C1231.1 992.7 1231.4 996.3 1231.7 1000.0C1231.9 1003.6 1232.2 1007.3 1232.4 1010.9C1232.7 1014.6 1233.0 1018.2 1233.2 1021.9C1233.5 1025.5 1233.8 1029.2 1234.1 1032.8C1234.3 1036.5 1234.6 1040.1 1234.9 1043.8C1235.1 1047.4 1235.4 1051.1 1235.7 1054.7C1236.0 1058.4 1236.3 1062.0 1236.6 1065.7C1236.8 1069.3 1237.1 1072.9 1237.4 1076.6C1237.7 1080.2 1238.0 1083.9 1238.3 1087.5C1238.6 1091.2 1238.9 1094.8 1239.2 1098.5C1239.5 1102.1 1239.8 1105.7 1240.1 1109.4C1240.5 1113.0 1240.8 1116.7 1241.1 1120.3C1241.4 1123.9 1241.8 1127.6 1242.1 1131.2C1242.4 1134.8 1242.8 1138.5 1243.2 1142.1C1243.5 1145.8 1243.9 1149.4 1244.3 1153.0C1244.6 1156.7 1245.0 1160.3 1245.4 1163.9C1245.8 1167.5 1246.3 1171.2 1246.7 1174.8C1247.1 1178.4 1247.6 1182.1 1248.0 1185.7C1248.5 1189.3 1249.0 1193.0 1249.5 1196.6C1250.0 1200.2 1250.5 1203.8 1251.0 1207.5C1251.5 1211.1 1252.1 1214.7 1252.7 1218.3C1253.2 1221.9 1253.8 1225.6 1254.4 1229.2C1255.0 1232.8 1255.7 1236.4 1256.3 1240.0C1257.0 1243.7 1257.7 1247.3 1258.4 1250.9C1259.1 1254.5 1259.8 1258.1 1260.6 1261.7C1261.4 1265.4 1262.0 1268.9 1263.1 1272.6C1264.2 1276.3 1265.5 1281.9 1267.2 1283.9C1268.8 1285.8 1271.3 1286.1 1273.0 1284.2C1274.7 1282.4 1276.1 1276.5 1277.2 1272.9C1278.4 1269.2 1279.0 1265.8 1279.7 1262.4C1280.5 1258.9 1281.1 1255.5 1281.9 1252.0C1282.6 1248.5 1283.4 1244.9 1284.3 1241.4C1285.1 1237.8 1286.0 1234.3 1286.8 1230.7C1287.7 1227.1 1288.6 1223.5 1289.5 1220.0C1290.4 1216.4 1291.3 1212.8 1292.2 1209.2C1293.1 1205.6 1294.0 1202.1 1294.9 1198.5C1295.8 1194.9 1296.6 1191.3 1297.5 1187.7C1298.4 1184.2 1299.2 1180.6 1300.1 1177.0C1300.9 1173.4 1301.7 1169.8 1302.5 1166.2C1303.4 1162.7 1304.1 1159.1 1304.9 1155.5C1305.7 1151.9 1306.5 1148.3 1307.2 1144.7C1308.0 1141.1 1308.7 1137.5 1309.5 1133.9C1310.2 1130.3 1310.9 1126.7 1311.7 1123.1C1312.4 1119.5 1313.1 1115.9 1313.8 1112.3C1314.5 1108.7 1315.2 1105.1 1315.9 1101.5C1316.6 1097.9 1317.3 1094.3 1318.0 1090.7C1318.7 1087.1 1319.4 1083.5 1320.1 1079.9C1320.8 1076.3 1321.4 1072.7 1322.1 1069.1C1322.8 1065.5 1323.5 1062.0 1324.2 1058.4C1324.9 1054.8 1325.6 1051.2 1326.3 1047.6C1327.0 1044.0 1327.7 1040.4 1328.4 1036.8C1329.1 1033.2 1329.9 1029.6 1330.6 1026.0C1331.3 1022.4 1332.0 1018.8 1332.8 1015.2C1333.5 1011.6 1334.3 1008.0 1335.1 1004.5C1335.8 1000.9 1336.6 997.3 1337.4 993.7C1338.2 990.1 1339.0 986.5 1339.8 983.0C1340.6 979.4 1341.5 975.8 1342.3 972.2C1343.2 968.6 1344.5 963.3 1344.9 961.5"/>
</g>

<!-- y tick labels -->
<g class="tk" text-anchor="end" filter="url(#soft3)">
<text transform="translate(215,69.5) scale(1,1.065)">1.2</text>
<text transform="translate(215,284) scale(1,1.065)">1</text>
<text transform="translate(215,498) scale(1,1.065)">0.8</text>
<text transform="translate(215,712.5) scale(1,1.065)">0.6</text>
<text transform="translate(215,927) scale(1,1.065)">0.4</text>
<text transform="translate(215,1141.5) scale(1,1.065)">0.2</text>
</g>
<!-- x tick labels -->
<g class="tk" text-anchor="middle" filter="url(#soft3)">
<text transform="translate(227,1399) scale(1,1.065)">400</text>
<text transform="translate(475,1399) scale(1,1.065)">500</text>
<text transform="translate(723,1399) scale(1,1.065)">600</text>
<text transform="translate(971,1399) scale(1,1.065)">700</text>
<text transform="translate(1219,1399) scale(1,1.065)">800</text>
<text transform="translate(1468,1399) scale(1,1.065)">900</text>
<text transform="translate(1716,1399) scale(1,1.065)">1000</text>
</g>

<!-- axis labels -->
<text x="617" y="1468" font-size="77" fill="#0a0a12" filter="url(#ct)" textLength="384" lengthAdjust="spacingAndGlyphs">wavelength</text>
<text x="1022" y="1468" font-size="62" fill="#262626" stroke="#fff" stroke-width="1" filter="url(#soft3)">(nm)</text>
<text transform="translate(100.5,940) rotate(-90) scale(1,1.06)" font-size="62.5" fill="#0e0e0e" stroke="#fff" stroke-width="1.2" filter="url(#soft3)">Absorbance, <tspan x="369" font-style="italic" font-size="64">A</tspan><tspan x="409" font-size="62.5">(</tspan><tspan x="430.5" font-size="52" font-family="'DejaVu Sans',sans-serif" textLength="38" lengthAdjust="spacingAndGlyphs">λ</tspan><tspan x="468" font-size="62.5">)</tspan></text>

<!-- legend -->
<g filter="url(#soft2)">
<rect x="313" y="707" width="130" height="10.2" fill="#ff0000"/>
<rect x="313" y="783.6" width="130" height="10.6" fill="#0000ff"/>
<rect x="313" y="860.2" width="130" height="10.2" fill="#ff00ff"/>
</g>
<g class="lg" filter="url(#soft3)">
<text transform="translate(453,731) scale(1,1.09)">W/O NP</text>
<text transform="translate(453,812.5) scale(1,1.09)">1 NP</text>
<text transform="translate(453,892.5) scale(1,1.09)">2 NPs</text>
</g>

<!-- inset: layered cell -->
<g filter="url(#soft)">
<!-- top -->
<polygon points="1271,327.3 1507,212.9 1900,212.9 1709.3,327.3" fill="#b4b4b4"/>
<!-- front -->
<rect x="1271" y="327.3" width="438.3" height="59.4" fill="#9b9b9b"/>
<rect x="1271" y="386.4" width="438.3" height="53.8" fill="#808000"/>
<rect x="1271" y="439.9" width="438.3" height="355" fill="#008282"/>
<polygon points="1271,439.9 1515,439.9 1515,663 1271,794.2" fill="#1f8080"/>
<rect x="1514.7" y="650" width="194.6" height="13" fill="#007a7c"/>
<polygon points="1271,794.6 1514.7,663 1709.3,663 1709.3,794.6" fill="#4dffff"/>
<line x1="1271" y1="793.5" x2="1514.7" y2="662" stroke="#136d70" stroke-width="2.5"/>
<rect x="1268" y="794.2" width="441.3" height="79" fill="#006400"/>
<rect x="1268" y="873" width="441.3" height="56" fill="#b0c8c2"/>
<rect x="1267.5" y="439.9" width="4" height="355" fill="#7fd0d0"/>
<!-- right -->
<polygon points="1709.3,327.3 1899,212.9 1899,269.2 1709.3,386.4" fill="#85858f"/>
<polygon points="1709.3,386.4 1899,269.2 1899,316.7 1709.3,439.9" fill="#917c00"/>
<polygon points="1709.3,439.9 1899,316.7 1899,663 1709.3,794.2" fill="#007080"/>
<polygon points="1709.3,663 1899,663 1709.3,794.2" fill="#00b9c9"/>
<polygon points="1709.3,794.2 1899,663 1899,732 1709.3,872" fill="#005600"/>
<polygon points="1709.3,872 1899,732 1899,781 1709.3,928.5" fill="#9a9a9a"/>
<rect x="1897.2" y="213" width="2.6" height="568" fill="#ffffff" opacity="0.3"/>
<!-- spheres -->
<ellipse cx="1440.2" cy="578" rx="67.6" ry="63.9" fill="#03708c"/>
<ellipse cx="1440.2" cy="578" rx="64.8" ry="61" fill="url(#gold)"/>
<ellipse cx="1615.1" cy="577.1" rx="65.4" ry="62" fill="#03708c"/>
<ellipse cx="1615.1" cy="577.1" rx="62.6" ry="59.2" fill="url(#gold)"/>
<line x1="1432.5" y1="578" x2="1613.5" y2="576" stroke="#33330c" stroke-width="3.2" stroke-dasharray="3.2 2"/>
<line x1="1613.5" y1="576" x2="1659.5" y2="535" stroke="#2a2a10" stroke-width="2.2"/>
</g>
<g filter="url(#soft3)">
<text x="1612" y="550.3" font-size="27.5" font-weight="bold" fill="#191607">R</text>
<text class="in" transform="translate(1806,305) rotate(-33)" text-anchor="middle" font-size="26">Al</text>
<text class="in" transform="translate(1813,356) rotate(-32)" text-anchor="middle">TiO<tspan font-size="16" dy="5">2</tspan></text>
<text class="in" transform="translate(1821,529) rotate(-30)" text-anchor="middle" fill="#00262e" font-size="27.5" letter-spacing="0.4">MAPbI3</text>
<text class="in" transform="translate(1807,768) rotate(-36)" text-anchor="middle" fill="#001c00">Spiro-OMeTAD</text>
<text class="in" transform="translate(1821,823) rotate(-38)" text-anchor="middle" fill="#1c1c1c">ITO</text>
<text x="1390" y="821" font-size="22" font-weight="bold" fill="#005a08">ITO</text>
</g>
</svg>
</body>
</html>
